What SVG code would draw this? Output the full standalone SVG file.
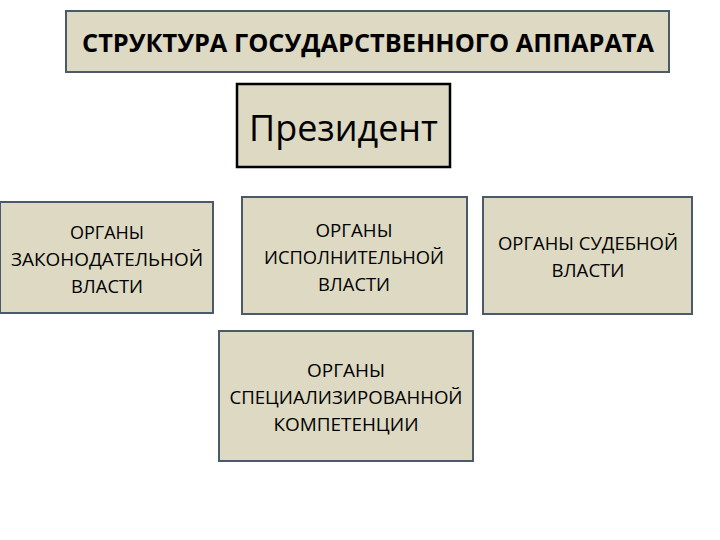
<svg xmlns="http://www.w3.org/2000/svg" width="720" height="540" viewBox="0 0 720 540">
<style>
.box{fill:#ddd9c3;stroke:#4a5a6b;stroke-width:2}
.pres{fill:#ddd9c3;stroke:#000;stroke-width:2.5}
.t{font-family:"Open Sans","Noto Sans","Liberation Sans",sans-serif;fill:#000;text-anchor:middle}
.s{font-size:19px}
</style>
<rect width="720" height="540" fill="#fff"/>
<g id="title">
<rect class="box" x="66" y="11" width="603" height="61"/>
<text class="t" x="368" y="52" font-size="25" font-weight="bold" textLength="572" lengthAdjust="spacingAndGlyphs">СТРУКТУРА ГОСУДАРСТВЕННОГО АППАРАТА</text>
</g>
<g id="president">
<rect class="pres" x="237" y="84" width="213" height="83"/>
<text class="t" x="343.5" y="141" font-size="36" textLength="189" lengthAdjust="spacingAndGlyphs">Президент</text>
</g>
<g id="legislative">
<rect class="box" x="0" y="202" width="213" height="111"/>
<text class="t s" x="107" y="239" textLength="74" lengthAdjust="spacingAndGlyphs">ОРГАНЫ</text>
<text class="t s" x="107" y="266" textLength="192" lengthAdjust="spacingAndGlyphs">ЗАКОНОДАТЕЛЬНОЙ</text>
<text class="t s" x="107" y="293" textLength="72" lengthAdjust="spacingAndGlyphs">ВЛАСТИ</text>
</g>
<g id="executive">
<rect class="box" x="242" y="197" width="225" height="117"/>
<text class="t s" x="354" y="237" textLength="77" lengthAdjust="spacingAndGlyphs">ОРГАНЫ</text>
<text class="t s" x="354" y="264" textLength="180" lengthAdjust="spacingAndGlyphs">ИСПОЛНИТЕЛЬНОЙ</text>
<text class="t s" x="354" y="291" textLength="72" lengthAdjust="spacingAndGlyphs">ВЛАСТИ</text>
</g>
<g id="judicial">
<rect class="box" x="483" y="197" width="209" height="117"/>
<text class="t s" x="588" y="250" textLength="180" lengthAdjust="spacingAndGlyphs">ОРГАНЫ СУДЕБНОЙ</text>
<text class="t s" x="588" y="277" textLength="73" lengthAdjust="spacingAndGlyphs">ВЛАСТИ</text>
</g>
<g id="special">
<rect class="box" x="219" y="331" width="254" height="130"/>
<text class="t s" x="346" y="377" textLength="78" lengthAdjust="spacingAndGlyphs">ОРГАНЫ</text>
<text class="t s" x="346" y="404" textLength="233" lengthAdjust="spacingAndGlyphs">СПЕЦИАЛИЗИРОВАННОЙ</text>
<text class="t s" x="346" y="431" textLength="145" lengthAdjust="spacingAndGlyphs">КОМПЕТЕНЦИИ</text>
</g>
<g id="connectors"></g>
</svg>
